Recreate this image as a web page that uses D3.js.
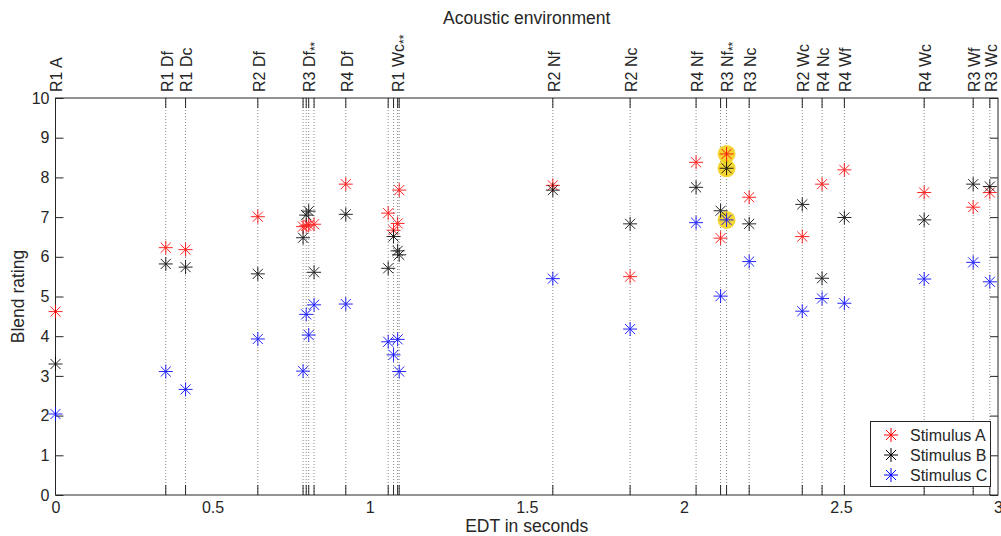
<!DOCTYPE html>
<html>
<head>
<meta charset="utf-8">
<script src="https://cdn.jsdelivr.net/npm/d3@7"></script>
<style>
  body { margin: 0; background: #fff; }
  svg { display: block; font-family: "Liberation Sans", Arial, sans-serif; }
</style>
</head>
<body>
<svg id="chart" viewBox="0 0 1001 536" width="1001" height="536"></svg>
<script>
// EDT (seconds) of each acoustic environment, with its top label ("" = shares label of a neighbour)
const edt = [0, 0.351, 0.414, 0.644, 0.788, 0.798, 0.806, 0.823, 0.924,
  1.059, 1.076, 1.089, 1.094, 1.583, 1.829, 2.039, 2.117, 2.136, 2.208,
  2.377, 2.440, 2.511, 2.765, 2.921, 2.974];
const envLabels = ["R1 A", "R1 Df", "R1 Dc", "R2 Df", "", "", "R3 Df**", "", "R4 Df",
  "", "", "R1 Wc**", "", "R2 Nf", "R2 Nc", "R4 Nf", "", "R3 Nf**", "R3 Nc",
  "R2 Wc", "R4 Nc", "R4 Wf", "R4 Wc", "R3 Wf", "R3 Wc"];

// blend ratings per stimulus
const stimA = [4.62, 6.23, 6.18, 7.01, 6.76, 6.78, 6.80, 6.82, 7.83,
  7.10, 6.67, 6.84, 7.68, 7.80, 5.50, 8.38, 6.47, 8.59, 7.50,
  6.51, 7.83, 8.19, 7.62, 7.25, 7.62];
const stimB = [3.30, 5.82, 5.74, 5.57, 6.48, 7.05, 7.15, 5.61, 7.07,
  5.71, 6.51, 6.15, 6.05, 7.68, 6.83, 7.75, 7.16, 8.23, 6.83,
  7.32, 5.46, 6.99, 6.93, 7.83, 7.77];
const stimC = [2.04, 3.11, 2.66, 3.93, 3.12, 4.55, 4.03, 4.79, 4.81,
  3.86, 3.53, 3.92, 3.11, 5.45, 4.18, 6.86, 5.01, 6.93, 5.88,
  4.63, 4.95, 4.83, 5.44, 5.86, 5.37];
const highlighted = [17];

const seriesNames = ["Stimulus A", "Stimulus B", "Stimulus C"];
const seriesColors = ["#ff0000", "#000000", "#0000ff"];
const xTicks = [0, 0.5, 1, 1.5, 2, 2.5, 3];
const yTicks = [0, 1, 2, 3, 4, 5, 6, 7, 8, 9, 10];

const svg = d3.select("#chart");
const plotL = 55.5, plotR = 998, plotT = 98, plotB = 495;
const axisColor = "#262626";
const tickFont = 16, labelFont = 17.5;

const x = d3.scaleLinear().domain([0, 3]).range([plotL, plotR]);
const y = d3.scaleLinear().domain([0, 10]).range([plotB, plotT]);

// dotted guide lines
svg.append("g").selectAll("line").data(edt).join("line")
  .attr("x1", d => x(d)).attr("x2", d => x(d))
  .attr("y1", plotT).attr("y2", plotB)
  .attr("stroke", "#888").attr("stroke-width", 1)
  .attr("stroke-dasharray", "1,2");

// frame
svg.append("rect")
  .attr("x", plotL).attr("y", plotT)
  .attr("width", plotR - plotL).attr("height", plotB - plotT)
  .attr("fill", "none").attr("stroke", axisColor).attr("stroke-width", 1);

// y axis ticks (both sides, inward)
const yAxisL = d3.axisLeft(y).tickValues(yTicks).tickSizeInner(-8).tickSizeOuter(0).tickPadding(6);
const gy = svg.append("g").attr("transform", `translate(${plotL},0)`).call(yAxisL);
gy.select(".domain").remove();
gy.selectAll("line").attr("stroke", axisColor);
gy.selectAll("text").attr("font-size", tickFont).attr("fill", axisColor);

const yAxisR = d3.axisRight(y).tickValues(yTicks).tickSizeInner(-8).tickSizeOuter(0).tickFormat("");
const gyr = svg.append("g").attr("transform", `translate(${plotR},0)`).call(yAxisR);
gyr.select(".domain").remove();
gyr.selectAll("line").attr("stroke", axisColor);

// bottom x axis labels
const xAxis = d3.axisBottom(x).tickValues(xTicks).tickSize(0).tickPadding(7).tickFormat(d3.format("~g"));
const gx = svg.append("g").attr("transform", `translate(0,${plotB})`).call(xAxis);
gx.select(".domain").remove();
gx.selectAll("text").attr("font-size", tickFont).attr("fill", axisColor);

// environment ticks, top and bottom, inward
const envTicks = svg.append("g");
envTicks.selectAll("line.t").data(edt).join("line").attr("class", "t")
  .attr("x1", d => x(d)).attr("x2", d => x(d))
  .attr("y1", plotT).attr("y2", plotT + 10).attr("stroke", axisColor);
envTicks.selectAll("line.b").data(edt).join("line").attr("class", "b")
  .attr("x1", d => x(d)).attr("x2", d => x(d))
  .attr("y1", plotB).attr("y2", plotB - 10).attr("stroke", axisColor);

// rotated environment labels
const lab = svg.append("g").selectAll("text")
  .data(edt.map((d, i) => ({ v: d, t: envLabels[i] })).filter(d => d.t !== ""))
  .join("text")
  .attr("transform", d => `translate(${x(d.v) + 1},92) rotate(-90)`)
  .attr("dy", "0.36em")
  .attr("font-size", tickFont)
  .attr("fill", axisColor);
lab.each(function (d) {
  const t = d3.select(this);
  const base = d.t.replace("**", "");
  t.append("tspan").text(base);
  if (d.t.endsWith("**")) {
    t.append("tspan").attr("font-size", 12).attr("dy", "0.3em").text("**");
  }
});

// titles
svg.append("text").attr("x", (plotL + plotR) / 2).attr("y", 24)
  .attr("text-anchor", "middle").attr("font-size", labelFont).attr("fill", axisColor)
  .text("Acoustic environment");
svg.append("text").attr("x", (plotL + plotR) / 2).attr("y", 532)
  .attr("text-anchor", "middle").attr("font-size", labelFont).attr("fill", axisColor)
  .text("EDT in seconds");
svg.append("text").attr("transform", `translate(24,${(plotT + plotB) / 2}) rotate(-90)`)
  .attr("text-anchor", "middle").attr("font-size", labelFont).attr("fill", axisColor)
  .text("Blend rating");

// highlight circles
const series = [stimA, stimB, stimC];
const hl = [];
highlighted.forEach(i => series.forEach(s => hl.push({ x: edt[i], y: s[i] })));
svg.append("g").selectAll("circle").data(hl).join("circle")
  .attr("cx", d => x(d.x)).attr("cy", d => y(d.y)).attr("r", 9)
  .attr("fill", "#f3d31f").attr("opacity", 0.9);

// asterisk marker
function star(g, cx, cy, color, r) {
  const dg = r * 0.72;
  const segs = [[-r, 0, r, 0], [0, -r, 0, r], [-dg, -dg, dg, dg], [-dg, dg, dg, -dg]];
  segs.forEach(s => g.append("line")
    .attr("x1", cx + s[0]).attr("y1", cy + s[1])
    .attr("x2", cx + s[2]).attr("y2", cy + s[3])
    .attr("stroke", color).attr("stroke-width", 1));
}

series.forEach((s, k) => {
  const g = svg.append("g").attr("opacity", 0.85);
  s.forEach((v, i) => star(g, x(edt[i]), y(v), seriesColors[k], 7));
});

// legend
const lg = svg.append("g");
lg.append("rect").attr("x", 870.5).attr("y", 421.5).attr("width", 120).attr("height", 65)
  .attr("fill", "#fff").attr("stroke", axisColor);
seriesNames.forEach((n, k) => {
  const ly = 435 + k * 20;
  star(lg, 891, ly, seriesColors[k], 7);
  lg.append("text").attr("x", 910).attr("y", ly).attr("dy", "0.36em")
    .attr("font-size", tickFont).attr("fill", axisColor).text(n);
});
</script>
</body>
</html>
